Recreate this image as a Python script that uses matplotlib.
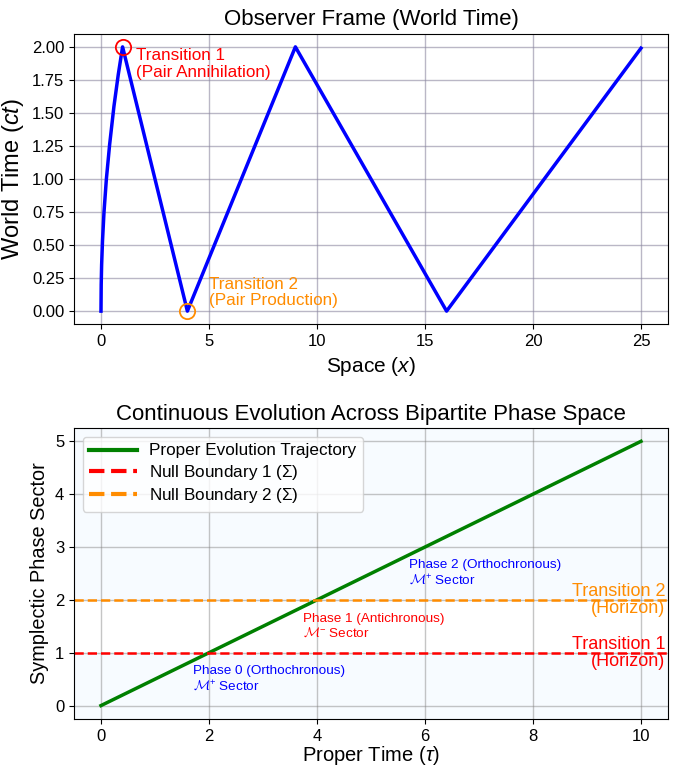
import matplotlib
matplotlib.use("Agg")
import matplotlib.pyplot as plt

plt.rcParams['font.family'] = ['Liberation Sans', 'DejaVu Sans']
plt.rcParams['mathtext.fontset'] = 'custom'
plt.rcParams['mathtext.rm'] = 'Liberation Sans'
plt.rcParams['mathtext.it'] = 'Liberation Sans:italic'
plt.rcParams['mathtext.cal'] = 'cmsy10'

# observer frame world line (space x, world time ct)
space_x = [0, 0.01, 0.03, 0.07, 0.14, 0.25, 0.4, 0.6, 0.8, 1, 4, 9, 16, 25]
world_ct = [0, 0.2, 0.35, 0.53, 0.75, 1.0, 1.26, 1.55, 1.79, 2.0, 0.0, 2.0, 0.0, 1.99]

# proper evolution (proper time tau, phase sector)
proper_tau = [0, 10]
phase_sector = [0, 5]
boundary_1 = 1
boundary_2 = 2

phase_labels = ["Phase 0 (Orthochronous)\n$\\mathcal{M}^{+}$ Sector",
                "Phase 1 (Antichronous)\n$\\mathcal{M}^{-}$ Sector",
                "Phase 2 (Orthochronous)\n$\\mathcal{M}^{+}$ Sector"]
phase_pos = [(1.7, 0.5), (3.75, 1.5), (5.7, 2.5)]
phase_colors = ['blue', 'red', 'blue']

fig, (ax1, ax2) = plt.subplots(2, 1, figsize=(6.75, 7.65), dpi=100)
fig.subplots_adjust(left=0.1096, right=0.9896, top=0.956, bottom=0.0604, hspace=0.357)

# ---- top panel
ax1.plot(space_x, world_ct, color='blue', linewidth=2.5)
ax1.plot(1, 2, 'o', markersize=11, markerfacecolor='none', markeredgecolor='red', markeredgewidth=1.3)
ax1.plot(4, 0, 'o', markersize=11, markerfacecolor='none', markeredgecolor='darkorange', markeredgewidth=1.3)
ax1.text(1.6, 1.87, "Transition 1\n(Pair Annihilation)", color='red', fontsize=12.3,
         ha='left', va='center', linespacing=1.1)
ax1.text(5.0, 0.14, "Transition 2\n(Pair Production)", color='darkorange', fontsize=12.3,
         ha='left', va='center', linespacing=1.05)
ax1.set_title("Observer Frame (World Time)", fontsize=16)
ax1.set_xlabel("Space $(x)$", fontsize=15)
ax1.set_ylabel("World Time $(ct)$", fontsize=17)
ax1.set_yticks([0, 0.25, 0.5, 0.75, 1.0, 1.25, 1.5, 1.75, 2.0])
ax1.tick_params(labelsize=12)
ax1.grid(True, color='#8c88a0', alpha=0.6, linewidth=1.0)

# ---- bottom panel
ax2.axhspan(-0.25, boundary_1, color='#e6f4ff', alpha=0.3, zorder=0)
ax2.axhspan(boundary_2, 5.25, color='#e6f4ff', alpha=0.3, zorder=0)
ax2.plot(proper_tau, phase_sector, color='green', linewidth=2.5, label='Proper Evolution Trajectory')
ax2.axhline(boundary_1, color='red', linestyle='--', linewidth=1.8, label='Null Boundary 1 ($\\Sigma$)')
ax2.axhline(boundary_2, color='darkorange', linestyle='--', linewidth=1.8, label='Null Boundary 2 ($\\Sigma$)')
ax2.text(10.45, boundary_2, "Transition 2\n(Horizon)", color='darkorange', fontsize=13,
         ha='right', va='center', linespacing=1.0)
ax2.text(10.45, boundary_1, "Transition 1\n(Horizon)", color='red', fontsize=13,
         ha='right', va='center', linespacing=1.0)
for (px, py), lab, c in zip(phase_pos, phase_labels, phase_colors):
    ax2.text(px, py, lab, color=c, fontsize=9.7, ha='left', va='center')

ax2.set_xlim(-0.5, 10.5)
ax2.set_ylim(-0.25, 5.25)
ax2.set_title("Continuous Evolution Across Bipartite Phase Space", fontsize=16)
ax2.set_xlabel("Proper Time $(\\tau)$", fontsize=14.5, labelpad=0)
ax2.set_ylabel("Symplectic Phase Sector", fontsize=14.3)
ax2.tick_params(labelsize=12)
ax2.grid(True, color='gray', alpha=0.45, linewidth=1.0)
leg = ax2.legend(loc='upper left', fontsize=12.3, handlelength=2.8, labelspacing=0.25,
                 handletextpad=0.7)
for h in leg.get_lines():
    h.set_linewidth(3)

fig.savefig("out.png", dpi=100)
